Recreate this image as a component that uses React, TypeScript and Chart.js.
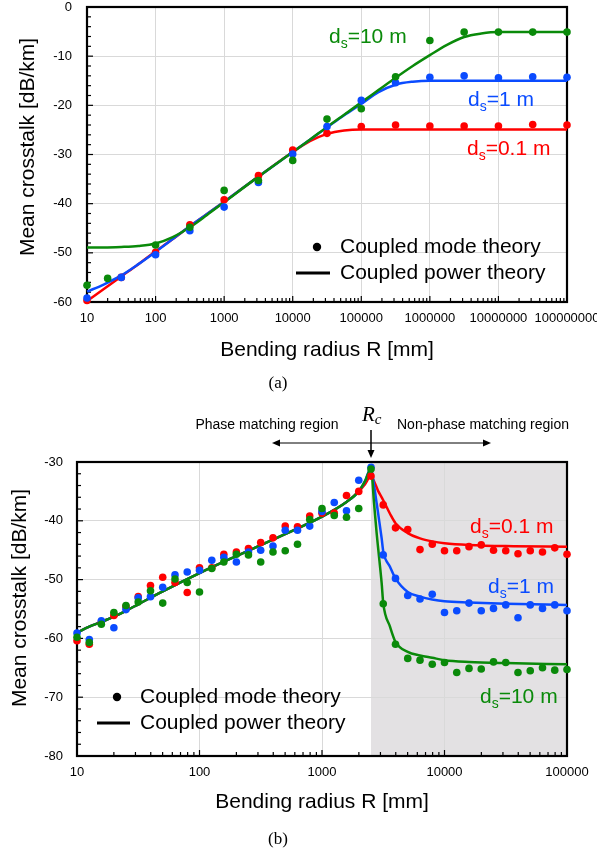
import React, { useEffect, useRef } from "react";
import { Chart, registerables } from "chart.js";

Chart.register(...registerables);

const FONT = "'Liberation Sans', Arial, sans-serif";
const SERIF = "'Liberation Serif', 'Times New Roman', serif";
const RED = "#ff0000";
const BLUE = "#0a4bff";
const GREEN = "#0a8a0a";
const GRID = "#d9d9d9";
const SHADE = "#e3e1e3";

// ---------- (a) crosstalk vs bending radius, up to 1e8 mm ----------
const A_X_TICKS = [10, 100, 1000, 10000, 100000, 1000000, 10000000, 100000000];
const A_Y_TICKS = [-60, -50, -40, -30, -20, -10, 0];

// coupled mode theory (dots)
const A_DOT_R_RED = [10, 31.6, 100, 316, 1000, 3162, 10000, 31623, 100000, 316228, 1000000, 3162278, 10000000, 31622777, 100000000];
const A_DOT_RED = [-59.7, -55.0, -49.9, -44.3, -39.2, -34.3, -29.1, -25.7, -24.3, -24.0, -24.2, -24.2, -24.2, -23.9, -24.0];
const A_DOT_R_BLUE = [10, 31.6, 100, 316, 1000, 3162, 10000, 31623, 100000, 316228, 1000000, 3162278, 10000000, 31622777, 100000000];
const A_DOT_BLUE = [-59.2, -55.0, -50.4, -45.5, -40.7, -35.7, -29.9, -24.3, -19.0, -15.4, -14.3, -14.0, -14.4, -14.2, -14.3];
const A_DOT_R_GREEN = [10, 20, 100, 316, 1000, 3162, 10000, 31623, 100000, 316228, 1000000, 3162278, 10000000, 31622777, 100000000];
const A_DOT_GREEN = [-56.6, -55.2, -48.4, -44.8, -37.3, -35.3, -31.2, -22.8, -20.7, -14.2, -6.8, -5.1, -5.1, -5.1, -5.1];

// coupled power theory (curves)
const A_CURVE_R = [10, 17.8, 31.6, 56.2, 100, 178, 316, 562, 1000, 3162, 10000, 17783, 31623, 56234, 100000, 177828, 316228, 562341, 1000000, 1778279, 3162278, 5623413, 10000000, 100000000];
const A_CURVE_RED = [-59.8, -57.3, -54.8, -52.3, -49.7, -47.2, -44.6, -42.1, -39.6, -34.5, -29.5, -27.3, -25.8, -25.1, -24.9, -24.9, -24.9, -24.9, -24.9, -24.9, -24.9, -24.9, -24.9, -24.9];
const A_CURVE_BLUE = [-57.9, -56.4, -54.6, -52.3, -49.8, -47.2, -44.6, -42.1, -39.6, -34.5, -29.5, -27.0, -24.5, -22.0, -19.7, -17.3, -15.8, -15.2, -15.0, -15.0, -15.0, -15.0, -15.0, -15.0];
const A_CURVE_GREEN = [-48.9, -48.9, -48.8, -48.6, -48.1, -46.8, -44.8, -42.3, -39.7, -34.5, -29.5, -27.0, -24.4, -21.9, -19.4, -16.9, -14.4, -12.0, -9.8, -7.7, -6.1, -5.4, -5.1, -5.1];

// ---------- (b) crosstalk vs bending radius around the critical radius ----------
const B_X_TICKS = [10, 100, 1000, 10000, 100000];
const B_Y_TICKS = [-80, -70, -60, -50, -40, -30];
const B_RC = 2512;

const B_R = [10, 12.6, 15.8, 20, 25.1, 31.6, 39.8, 50.1, 63.1, 79.4, 100, 126, 158, 200, 251, 316, 398, 501, 631, 794, 1000, 1259, 1585, 1995, 2512, 3162, 3981, 5012, 6310, 7943, 10000, 12589, 15849, 19953, 25119, 31623, 39811, 50119, 63096, 79433, 100000];
const B_DOT_RED = [-60.4, -61.0, -57.2, -56.1, -54.6, -52.9, -51.0, -49.6, -50.5, -52.2, -48.0, -48.0, -45.7, -45.3, -44.7, -43.7, -42.9, -40.9, -41.0, -39.2, -38.7, -38.7, -35.7, -35.0, -32.4, -37.3, -41.2, -41.5, -44.9, -44.0, -45.1, -45.1, -44.4, -44.1, -45.0, -45.1, -45.6, -45.1, -45.3, -44.6, -45.7];
const B_DOT_BLUE = [-59.1, -60.2, -57.0, -58.2, -55.1, -53.1, -52.9, -51.3, -49.2, -48.7, -48.4, -46.7, -46.2, -47.0, -45.3, -45.0, -44.3, -41.6, -41.6, -40.9, -38.4, -36.9, -38.3, -33.1, -30.9, -45.8, -49.8, -52.7, -53.3, -52.5, -55.6, -55.3, -54.0, -55.3, -54.9, -54.3, -56.5, -54.3, -54.9, -54.3, -55.3];
const B_DOT_GREEN = [-59.8, -60.7, -57.6, -55.6, -54.4, -53.8, -51.9, -54.0, -49.9, -50.5, -52.1, -48.1, -47.0, -45.7, -45.8, -47.0, -45.3, -45.1, -44.0, -39.8, -37.9, -39.1, -39.4, -37.9, -31.2, -54.1, -61.0, -63.4, -63.7, -64.4, -64.1, -65.8, -65.1, -65.2, -64.0, -64.1, -65.8, -65.5, -65.0, -65.4, -65.3];

const B_CURVE_R = [10, 12.6, 15.8, 20, 25.1, 31.6, 50.1, 100, 200, 398, 631, 1000, 1585, 1995, 2239, 2512, 2660, 2793, 2884, 3069, 3162, 3589, 3981, 5012, 6310, 7943, 10000, 15849, 31623, 100000];
const B_CURVE_RED = [-59.0, -58.0, -57.2, -56.3, -55.3, -54.2, -52.0, -48.9, -46.0, -43.2, -41.3, -39.3, -36.8, -35.0, -33.8, -32.4, -33.3, -34.3, -35.0, -36.0, -36.5, -38.8, -40.4, -42.1, -43.0, -43.5, -43.8, -44.1, -44.3, -44.4];
const B_CURVE_BLUE = [-59.0, -58.0, -57.2, -56.3, -55.3, -54.2, -52.0, -48.9, -46.0, -43.2, -41.3, -39.3, -36.8, -35.0, -33.3, -31.0, -34.0, -37.0, -39.0, -43.0, -45.2, -47.8, -49.8, -52.1, -52.9, -53.4, -53.7, -53.9, -54.1, -54.3];
const B_CURVE_GREEN = [-59.0, -58.0, -57.2, -56.3, -55.3, -54.2, -52.0, -48.9, -46.0, -43.2, -41.3, -39.3, -36.8, -35.0, -33.3, -31.2, -37.0, -42.1, -45.0, -50.6, -54.0, -58.0, -60.6, -62.3, -62.9, -63.3, -63.7, -64.0, -64.2, -64.4];

const pts = (xs: number[], ys: number[]) => xs.map((x, i) => ({ x, y: ys[i] }));

function dots(label: string, xs: number[], ys: number[], color: string, order: number) {
  return {
    label,
    data: pts(xs, ys),
    showLine: false,
    pointRadius: 3.8,
    pointHoverRadius: 3.8,
    pointBorderWidth: 0,
    pointBackgroundColor: color,
    backgroundColor: color,
    borderColor: color,
    order,
    clip: false as any,
  };
}

function curve(label: string, xs: number[], ys: number[], color: string, order: number) {
  return {
    label,
    data: pts(xs, ys),
    showLine: true,
    borderColor: color,
    backgroundColor: color,
    borderWidth: 2.5,
    pointRadius: 0,
    pointHoverRadius: 0,
    cubicInterpolationMode: "monotone" as const,
    fill: false,
    order,
    clip: false as any,
  };
}

function logX(min: number, max: number, ticks: number[], height: number, pad: number) {
  return {
    type: "logarithmic" as const,
    position: "bottom" as const,
    min,
    max,
    afterBuildTicks: (s: any) => {
      s.ticks = ticks.map((v) => ({ value: v }));
    },
    afterFit: (s: any) => {
      s.height = height;
      s.paddingLeft = 0;
      s.paddingRight = 0;
    },
    ticks: {
      autoSkip: false,
      maxRotation: 0,
      minRotation: 0,
      padding: pad,
      color: "#000",
      font: { family: FONT, size: 13 },
      callback: (v: any) => String(v),
    },
    grid: { color: GRID, lineWidth: 1, drawTicks: false },
    border: { display: false },
  };
}

function linY(min: number, max: number, ticks: number[], width: number, pad: number) {
  return {
    type: "linear" as const,
    position: "left" as const,
    min,
    max,
    afterBuildTicks: (s: any) => {
      s.ticks = ticks.map((v) => ({ value: v }));
    },
    afterFit: (s: any) => {
      s.width = width;
      s.paddingTop = 0;
      s.paddingBottom = 0;
    },
    ticks: {
      padding: pad,
      color: "#000",
      font: { family: FONT, size: 13 },
      callback: (v: any) => String(v),
    },
    grid: { color: GRID, lineWidth: 1, drawTicks: false },
    border: { display: false },
  };
}

function seg(ctx: CanvasRenderingContext2D, x1: number, y1: number, x2: number, y2: number) {
  ctx.beginPath();
  ctx.moveTo(x1, y1);
  ctx.lineTo(x2, y2);
  ctx.stroke();
}

// black box round the plot with inward ticks on the left and bottom axes
function drawFrame(chart: any, yMinorStep: number) {
  const { ctx, chartArea: a, scales } = chart;
  const x = scales.x;
  const y = scales.y;
  ctx.save();
  ctx.strokeStyle = "#000";
  ctx.lineWidth = 1.2;
  for (let v = y.min; v <= y.max + 1e-9; v += yMinorStep) {
    const py = y.getPixelForValue(v);
    const major = Math.abs(v % 10) < 1e-9;
    seg(ctx, a.left, py, a.left + (major ? 6 : 4), py);
  }
  for (let d = x.min; d < x.max * 1.0001; d *= 10) {
    for (let k = 1; k <= 9; k++) {
      const v = d * k;
      if (v > x.max * 1.0001) break;
      const px = x.getPixelForValue(v);
      seg(ctx, px, a.bottom, px, a.bottom - (k === 1 ? 6 : 4));
    }
  }
  ctx.lineWidth = 2.2;
  ctx.strokeRect(a.left, a.top, a.right - a.left, a.bottom - a.top);
  ctx.restore();
}

function axisTitles(ctx: CanvasRenderingContext2D, xTitle: string, xx: number, xy: number, yTitle: string, yx: number, yy: number) {
  ctx.fillStyle = "#000";
  ctx.font = `21px ${FONT}`;
  ctx.textAlign = "center";
  ctx.textBaseline = "middle";
  ctx.fillText(xTitle, xx, xy);
  ctx.save();
  ctx.translate(yx, yy);
  ctx.rotate(-Math.PI / 2);
  ctx.fillText(yTitle, 0, 0);
  ctx.restore();
}

function dsLabel(ctx: CanvasRenderingContext2D, x: number, base: number, rest: string, color: string) {
  ctx.fillStyle = color;
  ctx.textAlign = "left";
  ctx.textBaseline = "alphabetic";
  ctx.font = `21px ${FONT}`;
  ctx.fillText("d", x, base);
  let w = ctx.measureText("d").width;
  ctx.font = `14px ${FONT}`;
  ctx.fillText("s", x + w, base + 5);
  w += ctx.measureText("s").width;
  ctx.font = `21px ${FONT}`;
  ctx.fillText(rest, x + w, base);
}

function legendBox(ctx: CanvasRenderingContext2D, dotX: number, dotY: number, lineX1: number, lineX2: number, lineY: number, textX: number) {
  ctx.fillStyle = "#000";
  ctx.strokeStyle = "#000";
  ctx.beginPath();
  ctx.arc(dotX, dotY, 4.2, 0, Math.PI * 2);
  ctx.fill();
  ctx.lineWidth = 3;
  seg(ctx, lineX1, lineY, lineX2, lineY);
  ctx.font = `21px ${FONT}`;
  ctx.textAlign = "left";
  ctx.textBaseline = "middle";
  ctx.fillText("Coupled mode theory", textX, dotY);
  ctx.fillText("Coupled power theory", textX, lineY);
}

function caption(ctx: CanvasRenderingContext2D, text: string, x: number, y: number) {
  ctx.fillStyle = "#000";
  ctx.font = `17px ${SERIF}`;
  ctx.textAlign = "center";
  ctx.textBaseline = "middle";
  ctx.fillText(text, x, y);
}

function arrowHead(ctx: CanvasRenderingContext2D, tx: number, ty: number, dx: number, dy: number) {
  // filled triangle with its tip at (tx, ty), pointing along (dx, dy)
  const len = 8;
  const half = 3.5;
  const bx = tx - dx * len;
  const by = ty - dy * len;
  ctx.beginPath();
  ctx.moveTo(tx, ty);
  ctx.lineTo(bx - dy * half, by + dx * half);
  ctx.lineTo(bx + dy * half, by - dx * half);
  ctx.closePath();
  ctx.fill();
}

const panelAPlugin = {
  id: "panelA",
  beforeDatasetsDraw(chart: any) {
    drawFrame(chart, 2);
  },
  afterDraw(chart: any) {
    const { ctx, chartArea: a } = chart;
    ctx.save();
    axisTitles(ctx, "Bending radius R [mm]", (a.left + a.right) / 2, 350, "Mean crosstalk [dB/km]", 28, 147);
    dsLabel(ctx, 329, 43, "=10 m", GREEN);
    dsLabel(ctx, 468, 106, "=1 m", BLUE);
    dsLabel(ctx, 467, 155, "=0.1 m", RED);
    legendBox(ctx, 317, 247, 296, 330, 273, 340);
    caption(ctx, "(a)", 278, 384);
    ctx.restore();
  },
};

const panelBPlugin = {
  id: "panelB",
  beforeDraw(chart: any) {
    const { ctx, chartArea: a, scales } = chart;
    const rc = scales.x.getPixelForValue(B_RC);
    ctx.save();
    ctx.fillStyle = SHADE;
    ctx.fillRect(rc, a.top, a.right - rc, a.bottom - a.top);
    ctx.restore();
  },
  beforeDatasetsDraw(chart: any) {
    drawFrame(chart, 2);
  },
  afterDraw(chart: any) {
    const { ctx, chartArea: a, scales } = chart;
    const rc = scales.x.getPixelForValue(B_RC);
    ctx.save();
    axisTitles(ctx, "Bending radius R [mm]", (a.left + a.right) / 2, 402, "Mean crosstalk [dB/km]", 20, 198);

    // region annotations above the plot
    ctx.fillStyle = "#000";
    ctx.strokeStyle = "#000";
    ctx.font = `14px ${FONT}`;
    ctx.textAlign = "center";
    ctx.textBaseline = "middle";
    ctx.fillText("Phase matching region", rc - 104, a.top - 37);
    ctx.fillText("Non-phase matching region", rc + 112, a.top - 37);
    ctx.lineWidth = 1;
    const ay = a.top - 19;
    seg(ctx, rc - 92, ay, rc + 113, ay);
    arrowHead(ctx, rc - 99, ay, -1, 0);
    arrowHead(ctx, rc + 120, ay, 1, 0);
    ctx.lineWidth = 1.5;
    seg(ctx, rc, a.top - 32, rc, a.top - 12);
    arrowHead(ctx, rc, a.top - 4, 0, 1);

    // critical radius symbol
    ctx.textAlign = "left";
    ctx.textBaseline = "alphabetic";
    ctx.font = `italic 21px ${SERIF}`;
    ctx.fillText("R", rc - 9, a.top - 41);
    const rw = ctx.measureText("R").width;
    ctx.font = `italic 15px ${SERIF}`;
    ctx.fillText("c", rc - 9 + rw, a.top - 38);

    dsLabel(ctx, 470, 133, "=0.1 m", RED);
    dsLabel(ctx, 488, 193, "=1 m", BLUE);
    dsLabel(ctx, 480, 303, "=10 m", GREEN);
    legendBox(ctx, 117, 297, 97, 130, 323, 140);
    caption(ctx, "(b)", 278, 440);
    ctx.restore();
  },
};

function baseOptions(padTop: number) {
  return {
    responsive: false,
    animation: false as const,
    devicePixelRatio: 1,
    layout: { padding: { left: 0, top: padTop, right: 30, bottom: 0 } },
    plugins: { legend: { display: false }, tooltip: { enabled: false } },
    events: [] as any[],
  };
}

function configA(): any {
  return {
    type: "scatter",
    data: {
      datasets: [
        dots("Coupled mode theory, ds=10 m", A_DOT_R_GREEN, A_DOT_GREEN, GREEN, 0),
        dots("Coupled mode theory, ds=1 m", A_DOT_R_BLUE, A_DOT_BLUE, BLUE, 1),
        dots("Coupled mode theory, ds=0.1 m", A_DOT_R_RED, A_DOT_RED, RED, 2),
        curve("Coupled power theory, ds=10 m", A_CURVE_R, A_CURVE_GREEN, GREEN, 3),
        curve("Coupled power theory, ds=1 m", A_CURVE_R, A_CURVE_BLUE, BLUE, 4),
        curve("Coupled power theory, ds=0.1 m", A_CURVE_R, A_CURVE_RED, RED, 5),
      ],
    },
    options: {
      ...baseOptions(7),
      scales: {
        x: logX(10, 100000000, A_X_TICKS, 98, 9),
        y: linY(-60, 0, A_Y_TICKS, 87, 15),
      },
    },
    plugins: [panelAPlugin],
  };
}

function configB(): any {
  return {
    type: "scatter",
    data: {
      datasets: [
        dots("Coupled mode theory, ds=10 m", B_R, B_DOT_GREEN, GREEN, 0),
        dots("Coupled mode theory, ds=1 m", B_R, B_DOT_BLUE, BLUE, 1),
        dots("Coupled mode theory, ds=0.1 m", B_R, B_DOT_RED, RED, 2),
        curve("Coupled power theory, ds=10 m", B_CURVE_R, B_CURVE_GREEN, GREEN, 3),
        curve("Coupled power theory, ds=1 m", B_CURVE_R, B_CURVE_BLUE, BLUE, 4),
        curve("Coupled power theory, ds=0.1 m", B_CURVE_R, B_CURVE_RED, RED, 5),
      ],
    },
    options: {
      ...baseOptions(62),
      scales: {
        x: logX(10, 100000, B_X_TICKS, 97, 9),
        y: linY(-80, -30, B_Y_TICKS, 77, 14),
      },
    },
    plugins: [panelBPlugin],
  };
}

export default function App() {
  const aRef = useRef<HTMLCanvasElement>(null);
  const bRef = useRef<HTMLCanvasElement>(null);

  useEffect(() => {
    const ca = new Chart(aRef.current as HTMLCanvasElement, configA());
    const cb = new Chart(bRef.current as HTMLCanvasElement, configB());
    return () => {
      ca.destroy();
      cb.destroy();
    };
  }, []);

  return (
    <div style={{ position: "absolute", left: 0, top: 0, width: 597, height: 853, background: "#fff" }}>
      <canvas
        ref={aRef}
        width={597}
        height={400}
        style={{ position: "absolute", left: 0, top: 0, width: 597, height: 400, display: "block" }}
      />
      <canvas
        ref={bRef}
        width={597}
        height={453}
        style={{ position: "absolute", left: 0, top: 400, width: 597, height: 453, display: "block" }}
      />
    </div>
  );
}
